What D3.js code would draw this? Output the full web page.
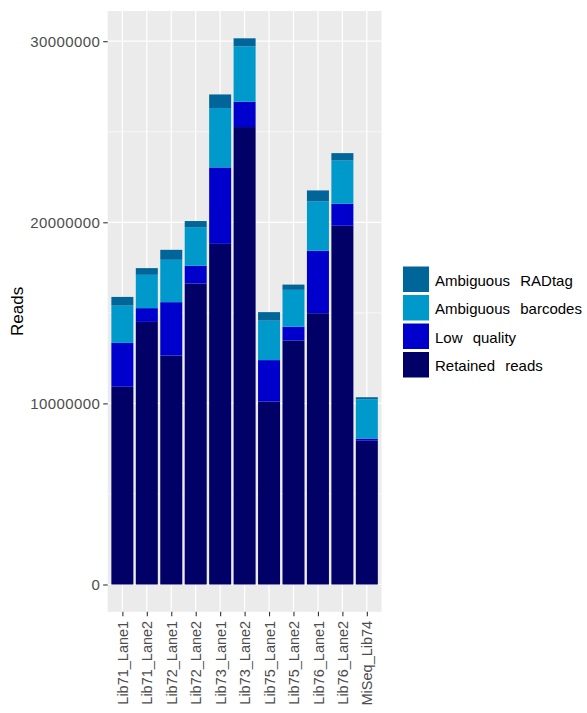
<!DOCTYPE html>
<html>
<head>
<meta charset="utf-8">
<script src="https://cdn.jsdelivr.net/npm/d3@7"></script>
<style>
  body { margin: 0; background: #fff; }
  text { font-family: "Liberation Sans", Arial, sans-serif; }
</style>
</head>
<body>
<svg id="chart" width="587" height="713"></svg>
<script>
// samples along the x axis
const libs = ['Lib71_Lane1', 'Lib71_Lane2', 'Lib72_Lane1', 'Lib72_Lane2', 'Lib73_Lane1',
    'Lib73_Lane2', 'Lib75_Lane1', 'Lib75_Lane2', 'Lib76_Lane1', 'Lib76_Lane2', 'MiSeq_Lib74']

// read counts per category (millions), stacked bottom -> top
const retained = [10.92, 14.50, 12.64, 16.62, 18.81, 25.26, 10.10, 13.47, 14.98, 19.81, 7.94]
const lowQuality = [2.42, 0.76, 2.95, 0.98, 4.22, 1.40, 2.29, 0.76, 3.45, 1.21, 0.12]
const ambBarcodes = [2.06, 1.84, 2.34, 2.11, 3.28, 3.05, 2.18, 2.04, 2.72, 2.39, 2.17]
const ambRadtag = [0.48, 0.37, 0.55, 0.36, 0.75, 0.45, 0.47, 0.29, 0.61, 0.41, 0.11]

const seriesNames = ['Retained reads', 'Low quality', 'Ambiguous barcodes', 'Ambiguous RADtag']
const seriesColors = ['#000066', '#0000cc', '#0099cc', '#006699']
const yTicks = [0, 10000000, 20000000, 30000000]
const yMinor = [5000000, 15000000, 25000000]

const rows = libs.map((name, i) => ({
    name: name,
    'Retained reads': retained[i] * 1e6,
    'Low quality': lowQuality[i] * 1e6,
    'Ambiguous barcodes': ambBarcodes[i] * 1e6,
    'Ambiguous RADtag': ambRadtag[i] * 1e6
}))

const stacked = d3.stack().keys(seriesNames)(rows)
const maxTotal = d3.max(stacked[stacked.length - 1], d => d[1])

const panel = { left: 107.7, right: 381.5, top: 11, bottom: 611.8 }
const svg = d3.select('#chart')

// ggplot style expansion: 0.6 units on discrete x, 5% on continuous y
const x = d3.scalePoint()
    .domain(libs)
    .range([panel.left, panel.right])
    .padding(0.6)
const step = x.step()
const barW = step * 0.9

const y = d3.scaleLinear()
    .domain([-maxTotal * 0.05, maxTotal * 1.05])
    .range([panel.bottom, panel.top])

// panel background
svg.append('rect')
    .attr('x', panel.left)
    .attr('y', panel.top)
    .attr('width', panel.right - panel.left)
    .attr('height', panel.bottom - panel.top)
    .attr('fill', '#ebebeb')

// grid
svg.append('g')
    .selectAll('line')
    .data(yMinor)
    .enter().append('line')
    .attr('x1', panel.left).attr('x2', panel.right)
    .attr('y1', d => y(d)).attr('y2', d => y(d))
    .attr('stroke', '#fff').attr('stroke-width', 0.6)

svg.append('g')
    .selectAll('line')
    .data(yTicks)
    .enter().append('line')
    .attr('x1', panel.left).attr('x2', panel.right)
    .attr('y1', d => y(d)).attr('y2', d => y(d))
    .attr('stroke', '#fff').attr('stroke-width', 1.2)

svg.append('g')
    .selectAll('line')
    .data(libs)
    .enter().append('line')
    .attr('x1', d => x(d)).attr('x2', d => x(d))
    .attr('y1', panel.top).attr('y2', panel.bottom)
    .attr('stroke', '#fff').attr('stroke-width', 1.2)

// bars
let layers = svg.append('g')
    .selectAll('g')
    .data(stacked)
    .enter().append('g')
    .attr('fill', (d, i) => seriesColors[i])

layers.selectAll('rect')
    .data(d => d)
    .enter().append('rect')
    .attr('x', d => x(d.data.name) - barW / 2)
    .attr('y', d => y(d[1]))
    .attr('width', barW)
    .attr('height', d => y(d[0]) - y(d[1]))

// y axis
let yAxis = svg.append('g')
    .attr('transform', 'translate(' + panel.left + ',0)')
    .call(d3.axisLeft(y).tickValues(yTicks).tickFormat(d3.format('d')).tickSize(4.5).tickPadding(3))
yAxis.select('.domain').remove()
yAxis.selectAll('line').attr('stroke', '#333').attr('stroke-width', 1.1)
yAxis.selectAll('text')
    .attr('fill', '#4d4d4d')
    .style('font-size', '15px')
    .style('letter-spacing', '0.4px')

// x axis
let xAxis = svg.append('g')
    .attr('transform', 'translate(0,' + panel.bottom + ')')
    .call(d3.axisBottom(x).tickSize(4.5).tickPadding(3))
xAxis.select('.domain').remove()
xAxis.selectAll('line').attr('stroke', '#333').attr('stroke-width', 1.1)
xAxis.selectAll('text')
    .attr('fill', '#4d4d4d')
    .style('font-size', '14.5px')
    .attr('text-anchor', 'end')
    .attr('dy', '0.35em')
    .attr('transform', 'translate(0,9) rotate(-90)')
    .attr('x', 0)
    .attr('y', 0)

// y title
svg.append('text')
    .attr('transform', 'translate(23,' + ((panel.top + panel.bottom) / 2) + ') rotate(-90)')
    .attr('text-anchor', 'middle')
    .style('font-size', '17px')
    .attr('fill', '#000')
    .text('Reads')

// legend, top entry first
let legendData = seriesNames.map((n, i) => ({ name: n, color: seriesColors[i] })).reverse()
let legend = svg.append('g')
    .attr('transform', 'translate(403,266.5)')
    .selectAll('g')
    .data(legendData)
    .enter().append('g')
    .attr('transform', (d, i) => 'translate(0,' + (i * 28.5) + ')')

legend.append('rect')
    .attr('width', 26)
    .attr('height', 25.5)
    .attr('fill', d => d.color)

legend.append('text')
    .attr('x', 32)
    .attr('y', 14)
    .attr('dy', '0.35em')
    .style('font-size', '15px')
    .style('word-spacing', '6px')
    .attr('fill', '#000')
    .text(d => d.name)
</script>
</body>
</html>
